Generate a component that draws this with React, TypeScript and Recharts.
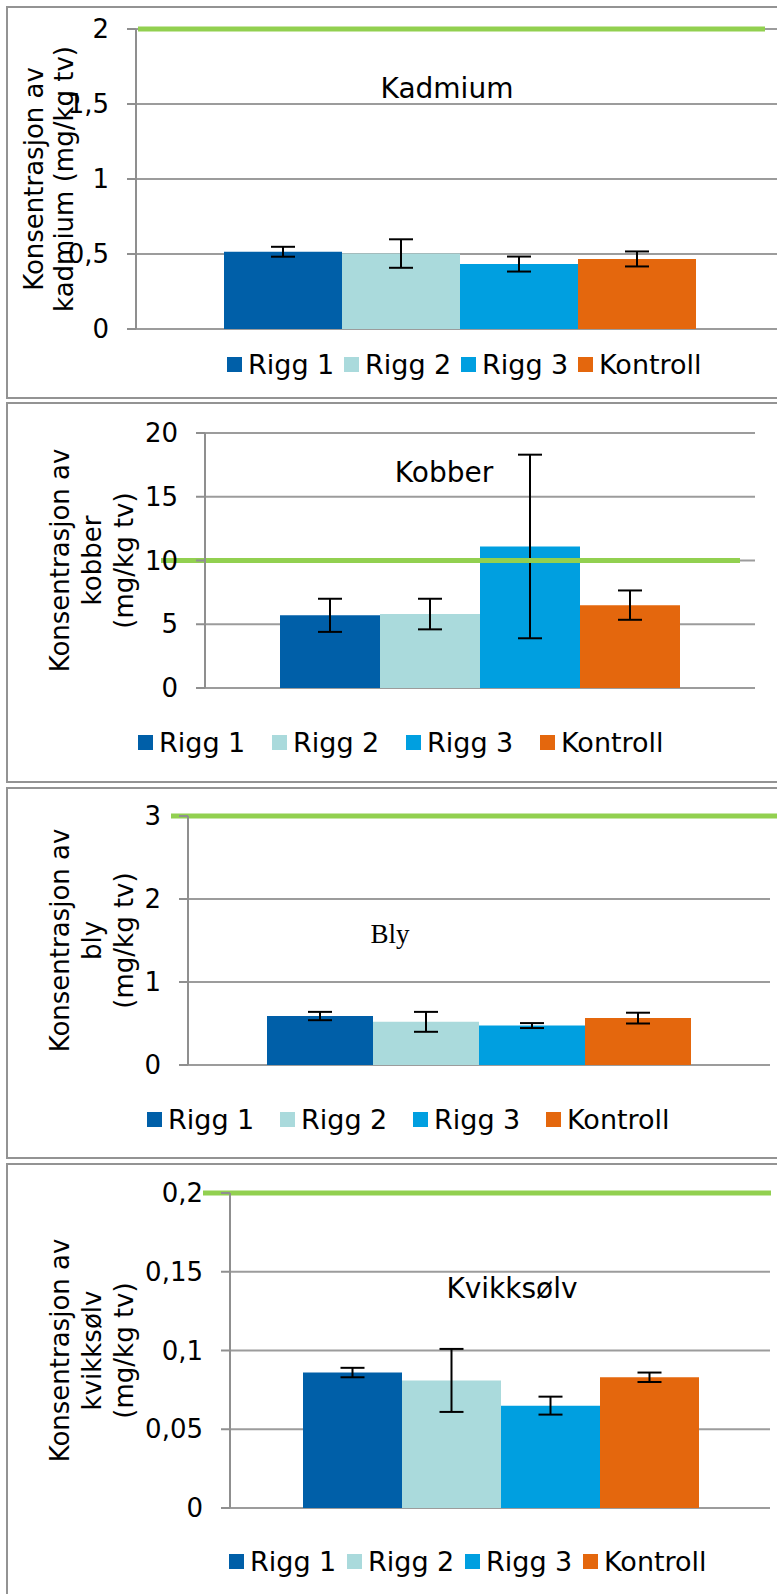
import React from 'react';
import {
  BarChart,
  Bar,
  XAxis,
  YAxis,
  CartesianGrid,
  ErrorBar,
  ReferenceLine,
  Legend,
  Customized,
} from 'recharts';

const categories = ['Rigg 1', 'Rigg 2', 'Rigg 3', 'Kontroll'];
const colors = ['#005FA8', '#AADADC', '#009FE0', '#E4670D'];

const kadmiumMean = [0.515, 0.503, 0.433, 0.467];
const kadmiumErr = [0.033, 0.095, 0.05, 0.05];
const kadmiumTicks = [0, 0.5, 1, 1.5, 2];
const kadmiumLimit = 2;

const kobberMean = [5.7, 5.8, 11.1, 6.5];
const kobberErr = [1.3, 1.2, 7.2, 1.15];
const kobberTicks = [0, 5, 10, 15, 20];
const kobberLimit = 10;

const blyMean = [0.59, 0.52, 0.475, 0.565];
const blyErr = [0.05, 0.12, 0.03, 0.065];
const blyTicks = [0, 1, 2, 3];
const blyLimit = 3;

const kvikksolvMean = [0.086, 0.081, 0.065, 0.083];
const kvikksolvErr = [0.003, 0.02, 0.0057, 0.003];
const kvikksolvTicks = [0, 0.05, 0.1, 0.15, 0.2];
const kvikksolvLimit = 0.2;

const W = 800;
const FONT = '"DejaVu Sans", Verdana, sans-serif';
const SERIF = '"Liberation Serif", "Times New Roman", serif';
const GRID = '#9c9c9c';
const AXIS = '#8f8f8f';
const GREEN = '#92D050';

const fmt = (v: number) => String(v).replace('.', ',');

const panels = [
  {
    title: 'Kadmium', titleFont: FONT, titleSize: 28, mean: kadmiumMean, err: kadmiumErr,
    ticks: kadmiumTicks, limit: kadmiumLimit, yLabel: ['Konsentrasjon av', 'kadmium (mg/kg tv)'],
    boxTop: 6, boxHeight: 393, chartTop: 7, chartHeight: 390,
    plotTop: 29, plotBottom: 329, plotLeft: 136, plotRight: 784, gap: 88,
    limitFrom: 138, limitTo: 765, labelX: [43, 73], titleX: 447, titleY: 98,
    legendX: 227, legendY: 364, legendItem: 117,
  },
  {
    title: 'Kobber', titleFont: FONT, titleSize: 28, mean: kobberMean, err: kobberErr,
    ticks: kobberTicks, limit: kobberLimit, yLabel: ['Konsentrasjon av', 'kobber', '(mg/kg tv)'],
    boxTop: 402, boxHeight: 381, chartTop: 403, chartHeight: 379,
    plotTop: 433, plotBottom: 688, plotLeft: 205, plotRight: 755, gap: 75,
    limitFrom: 161, limitTo: 740, labelX: [69, 101, 133], titleX: 444, titleY: 482,
    legendX: 138, legendY: 742, legendItem: 134,
  },
  {
    title: 'Bly', titleFont: SERIF, titleSize: 27, mean: blyMean, err: blyErr,
    ticks: blyTicks, limit: blyLimit, yLabel: ['Konsentrasjon av', 'bly', '(mg/kg tv)'],
    boxTop: 787, boxHeight: 372, chartTop: 788, chartHeight: 370,
    plotTop: 816, plotBottom: 1065, plotLeft: 188, plotRight: 770, gap: 79,
    limitFrom: 171, limitTo: 790, labelX: [69, 101, 133], titleX: 390, titleY: 943,
    legendX: 147, legendY: 1119, legendItem: 133,
  },
  {
    title: 'Kvikksølv', titleFont: FONT, titleSize: 28, mean: kvikksolvMean, err: kvikksolvErr,
    ticks: kvikksolvTicks, limit: kvikksolvLimit, yLabel: ['Konsentrasjon av', 'kvikksølv', '(mg/kg tv)'],
    boxTop: 1163, boxHeight: 460, chartTop: 1164, chartHeight: 430,
    plotTop: 1193, plotBottom: 1508, plotLeft: 230, plotRight: 770, gap: 73,
    limitFrom: 203, limitTo: 771, labelX: [69, 101, 133], titleX: 512, titleY: 1298,
    legendX: 229, legendY: 1561, legendItem: 118,
  },
];

type PanelProps = { p: (typeof panels)[number] };

function Panel({ p }: PanelProps) {
  const row: Record<string, number | string> = { name: p.title };
  categories.forEach((_, i) => {
    row[`v${i}`] = p.mean[i];
    row[`e${i}`] = p.err[i];
  });

  const margin = {
    top: p.plotTop - p.chartTop,
    bottom: p.chartTop + p.chartHeight - p.plotBottom,
    left: 0,
    right: W - p.plotRight,
  };
  const midY = (p.plotTop + p.plotBottom) / 2 - p.chartTop;

  const yLabel = () => (
    <g>
      {p.yLabel.map((line, i) => (
        <text
          key={line}
          x={p.labelX[i]}
          y={midY}
          transform={`rotate(-90, ${p.labelX[i]}, ${midY})`}
          textAnchor="middle"
          fontFamily={FONT}
          fontSize={26}
          fill="#000"
        >
          {line}
        </text>
      ))}
    </g>
  );

  // keep the series order of the original legend
  const legendContent = (props: any) => {
    const items = [...(props.payload || [])].sort(
      (a: any, b: any) => categories.indexOf(a.value) - categories.indexOf(b.value),
    );
    return (
      <div style={{ display: 'flex', height: 30, alignItems: 'center' }}>
        {items.map((entry: any) => (
          <div key={entry.value} style={{ width: p.legendItem, display: 'flex', alignItems: 'center', flex: 'none' }}>
            <span style={{ width: 15, height: 15, background: entry.color, marginRight: 6, flex: 'none' }} />
            <span style={{ fontFamily: FONT, fontSize: 27, color: '#000', whiteSpace: 'nowrap' }}>{entry.value}</span>
          </div>
        ))}
      </div>
    );
  };

  return (
    <div style={{ position: 'absolute', left: 0, top: p.chartTop }}>
      <BarChart
        width={W}
        height={p.chartHeight}
        data={[row]}
        margin={margin}
        barCategoryGap={p.gap}
        barGap={0}
      >
        <CartesianGrid vertical={false} stroke={GRID} strokeWidth={2} />
        <XAxis dataKey="name" hide />
        <YAxis
          width={p.plotLeft}
          domain={[0, p.ticks[p.ticks.length - 1]]}
          ticks={p.ticks}
          interval={0}
          tickFormatter={fmt}
          axisLine={{ stroke: AXIS, strokeWidth: 2 }}
          tickLine={{ stroke: AXIS, strokeWidth: 2 }}
          tickSize={9}
          tickMargin={18}
          tick={{ fill: '#000', fontSize: 26, fontFamily: FONT }}
          label={{ content: yLabel }}
        />
        {categories.map((c, i) => (
          <Bar key={c} dataKey={`v${i}`} name={c} fill={colors[i]} isAnimationActive={false}>
            <ErrorBar dataKey={`e${i}`} width={12} stroke="#000" strokeWidth={2} />
          </Bar>
        ))}
        <ReferenceLine
          y={p.limit}
          stroke={GREEN}
          strokeWidth={5}
          shape={(lp: any) => (
            <line x1={p.limitFrom} x2={p.limitTo} y1={lp.y1} y2={lp.y2} stroke={GREEN} strokeWidth={5} />
          )}
        />
        <Legend
          layout="horizontal"
          verticalAlign="middle"
          align="center"
          wrapperStyle={{ left: p.legendX, top: p.legendY - 15 - p.chartTop, width: 640, height: 30 }}
          content={legendContent}
        />
        <Customized
          component={() => (
            <text
              x={p.titleX}
              y={p.titleY - p.chartTop}
              textAnchor="middle"
              fontFamily={p.titleFont}
              fontSize={p.titleSize}
              fill="#000"
            >
              {p.title}
            </text>
          )}
        />
      </BarChart>
    </div>
  );
}

export default function App() {
  return (
    <div
      style={{
        position: 'absolute',
        left: 0,
        top: 0,
        width: 777,
        height: 1594,
        overflow: 'hidden',
        background: '#fff',
      }}
    >
      {panels.map((p) => (
        <div
          key={`box-${p.title}`}
          style={{
            position: 'absolute',
            left: 6,
            top: p.boxTop,
            width: 900,
            height: p.boxHeight,
            border: '2px solid #939393',
            boxSizing: 'border-box',
          }}
        />
      ))}
      {panels.map((p) => (
        <Panel key={p.title} p={p} />
      ))}
    </div>
  );
}
